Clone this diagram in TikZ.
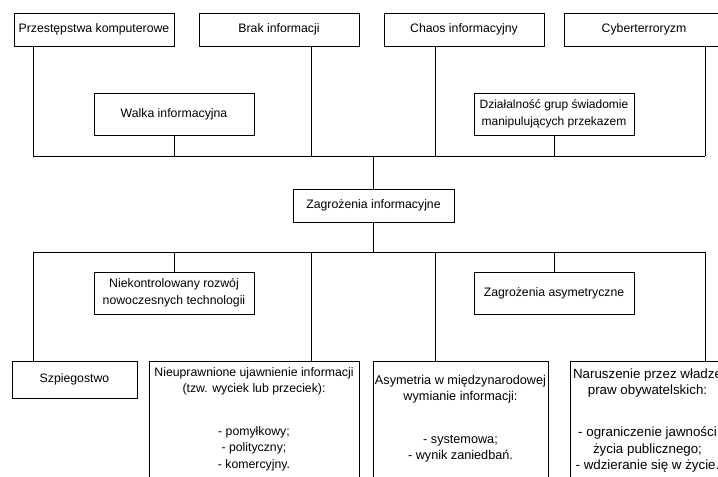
\documentclass[tikz,border=0pt]{standalone}
\usepackage{fontspec}
\setmainfont{Liberation Sans}
\usepackage{tikz}
\usetikzlibrary{positioning}

\newcommand{\boxfont}{\fontsize{9.2}{12.4}\selectfont}

\tikzset{
    box/.style={draw, align=center, inner sep=2pt, font=\boxfont,
        minimum width=120pt, minimum height=24.75pt},
    tallbox/.style={box, minimum height=31.5pt},
    deepbox/.style={draw, anchor=north, minimum height=112.5pt},
    note/.style={align=center, inner sep=0pt, anchor=north, font=\boxfont},
    link/.style={draw}
}

\begin{document}
\begin{tikzpicture}[x=0.75pt, y=-0.75pt, line width=0.7pt]
    \clip (0,0) rectangle (718,477);

    % top row
    \node[box] (przest) at (94,29.5) {Przestępstwa komputerowe};
    \node[box] (brak) at (279,29.5) {Brak informacji};
    \node[box] (chaos) at (464,29.5) {Chaos informacyjny};
    \node[box] (cyber) at (644,29.5) {Cyberterroryzm};
    \node[tallbox] (walka) at (174,114) {Walka informacyjna};
    \node[tallbox, font=\fontsize{9}{12.6}\selectfont] (dzial) at (554,114) {Działalność grup świadomie\\manipulujących przekazem};

    % centre
    \node[box, minimum width=120.75pt] (zagInf) at (373.5,205.5) {Zagrożenia informacyjne};

    % lower rows
    \node[tallbox] (niekontr) at (174,293) {Niekontrolowany rozwój\\nowoczesnych technologii};
    \node[tallbox] (zagAsym) at (554,293) {Zagrożenia asymetryczne};
    \node[box, minimum width=93.75pt, minimum height=27.75pt] (szpieg) at (74.5,379.5) {Szpiegostwo};

    \node[deepbox, minimum width=157.5pt] (nieupr) at (254,361) {};
    \node[deepbox, minimum width=131.25pt] (asym) at (460.5,361) {};
    \node[deepbox, minimum width=131.25pt] (narusz) at (657.5,361) {};

    \node[note, below=4.5pt of nieupr.north] (nieuprTxt)
        {Nieuprawnione ujawnienie informacji\\(tzw. wyciek lub przeciek):\\[19.5pt]- pomyłkowy;\\- polityczny;\\- komercyjny.};
    \node[note, font=\fontsize{9.5}{12.2}\selectfont, below=10.5pt of asym.north] (asymTxt)
        {Asymetria w międzynarodowej\\wymianie informacji:\\[19.5pt]- systemowa;\\- wynik zaniedbań.};
    \node[note, font=\fontsize{10}{12.4}\selectfont, below=5.25pt of narusz.north, xshift=-7.5pt] (naruszTxt)
        {Naruszenie przez władze\\praw obywatelskich:\\[19pt]- ograniczenie jawności\\życia publicznego;\\- wdzieranie się w życie.};

    % bus joints
    \coordinate (t1) at (33,156);  \coordinate (b1) at (33,252);
    \coordinate (t2) at (174,156); \coordinate (b2) at (174,252);
    \coordinate (t3) at (311,156); \coordinate (b3) at (311,252);
    \coordinate (t4) at (435,156); \coordinate (b4) at (435,252);
    \coordinate (t5) at (554,156); \coordinate (b5) at (554,252);
    \coordinate (t6) at (705,156); \coordinate (b6) at (705,252);

    % upper branches
    \draw[link] (t1) -- (t6);
    \draw[link] (przest.south -| t1) -- (t1);
    \draw[link] (walka) -- (t2);
    \draw[link] (brak.south -| t3) -- (t3);
    \draw[link] (chaos.south -| t4) -- (t4);
    \draw[link] (dzial) -- (t5);
    \draw[link] (cyber.south -| t6) -- (t6);
    \draw[link] (zagInf) -- (zagInf |- t1);

    % lower branches
    \draw[link] (zagInf) -- (zagInf |- b1);
    \draw[link] (b1) -- (b6);
    \draw[link] (b1) -- (szpieg.north -| b1);
    \draw[link] (b2) -- (niekontr);
    \draw[link] (b3) -- (nieupr.north -| b3);
    \draw[link] (b4) -- (asym.north -| b4);
    \draw[link] (b5) -- (zagAsym);
    \draw[link] (b6) -- (narusz.north -| b6);
\end{tikzpicture}
\end{document}
